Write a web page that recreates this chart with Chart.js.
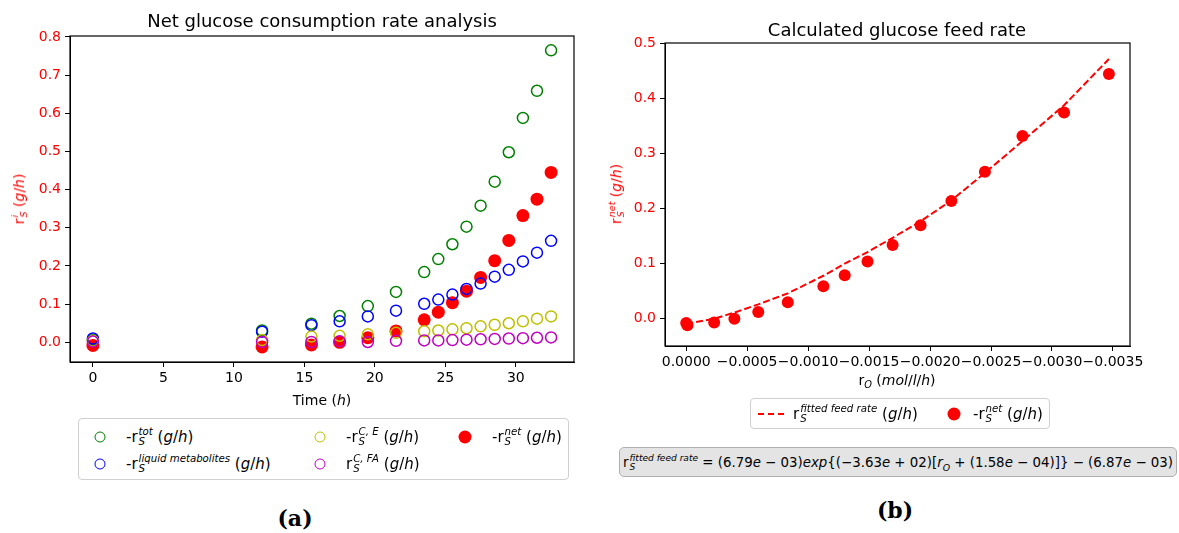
<!DOCTYPE html>
<html>
<head>
<meta charset="utf-8">
<script src="https://cdn.jsdelivr.net/npm/chart.js@4.4.1/dist/chart.umd.min.js"></script>
<style>
  body { margin: 0; width: 1179px; height: 533px; background: #fff; position: relative; overflow: hidden;
         font-family: "DejaVu Sans", sans-serif; color: #000; }
  .abs { position: absolute; white-space: nowrap; }
  .title { font-size: 18px; transform: translate(-50%, -50%); }
  .xlab { font-size: 14px; transform: translate(-50%, -50%); }
  .ylab { font-size: 14px; color: #ff0000; transform: translate(-50%, -50%) rotate(-90deg); }
  .st { display: inline-block; vertical-align: -0.3em; line-height: 0.95; font-size: 0.68em; font-style: italic; margin-left: 1px; }
  .st > span { display: block; }
  .legend { border: 1px solid #d0d0d0; border-radius: 4px; background: #fff; font-size: 15px; }
  .item { position: absolute; transform: translateY(-50%); }
  .ring { position: absolute; width: 9px; height: 9px; border-radius: 50%; border: 1.5px solid; transform: translate(-50%, -50%); }
  .dot { position: absolute; width: 13px; height: 13px; border-radius: 50%; background: #ff0000; transform: translate(-50%, -50%); }
  .dash { position: absolute; width: 26px; height: 2px; transform: translateY(-50%);
          background: repeating-linear-gradient(90deg, #ff0000 0 6px, transparent 6px 10px); }
  .formula { border: 1px solid #b0b0b0; border-radius: 5px; background: #e4e4e4; font-size: 13.35px; padding: 0 3px; }
  .cap { font-family: "DejaVu Serif", serif; font-weight: bold; font-size: 22px; transform: translate(-50%, -50%); }
</style>
</head>
<body>
<canvas id="left" class="abs" width="600" height="400" style="left:0;top:0"></canvas>
<canvas id="right" class="abs" width="579" height="400" style="left:600px;top:0"></canvas>

<div class="abs title" style="left:322px;top:20px">Net glucose consumption rate analysis</div>
<div class="abs title" style="left:897px;top:29px">Calculated glucose feed rate</div>

<div class="abs xlab" style="left:322px;top:400px">Time (<i>h</i>)</div>
<div class="abs xlab" style="left:897px;top:381px">r<sub style="font-size:0.7em"><i>O</i></sub> (<i>mol</i>/<i>l</i>/<i>h</i>)</div>

<div class="abs ylab" style="left:19px;top:199px">r<span class="st"><span>i</span><span>S</span></span> (<i>g</i>/<i>h</i>)</div>
<div class="abs ylab" style="left:616px;top:194px">r<span class="st"><span>net</span><span>S</span></span> (<i>g</i>/<i>h</i>)</div>

<div class="abs legend" style="left:78px;top:418px;width:489px;height:60px">
  <div class="ring" style="left:21px;top:18px;border-color:#008000"></div>
  <div class="item" style="left:47px;top:18px">-r<span class="st"><span>tot</span><span>S</span></span> (<i>g</i>/<i>h</i>)</div>
  <div class="ring" style="left:21px;top:45px;border-color:#0000ff"></div>
  <div class="item" style="left:47px;top:45px">-r<span class="st"><span>liquid metabolites</span><span>S</span></span> (<i>g</i>/<i>h</i>)</div>
  <div class="ring" style="left:241px;top:18px;border-color:#bfbf00"></div>
  <div class="item" style="left:267px;top:18px">-r<span class="st"><span>C, E</span><span>S</span></span> (<i>g</i>/<i>h</i>)</div>
  <div class="ring" style="left:241px;top:45px;border-color:#bf00bf"></div>
  <div class="item" style="left:267px;top:45px">r<span class="st"><span>C, FA</span><span>S</span></span> (<i>g</i>/<i>h</i>)</div>
  <div class="dot" style="left:386px;top:18px"></div>
  <div class="item" style="left:413px;top:18px">-r<span class="st"><span>net</span><span>S</span></span> (<i>g</i>/<i>h</i>)</div>
</div>

<div class="abs legend" style="left:750px;top:398px;width:298px;height:29px">
  <div class="dash" style="left:7px;top:15px"></div>
  <div class="item" style="left:42px;top:15px">r<span class="st"><span>fitted feed rate</span><span>S</span></span> (<i>g</i>/<i>h</i>)</div>
  <div class="dot" style="left:203px;top:15px"></div>
  <div class="item" style="left:222px;top:15px">-r<span class="st"><span>net</span><span>S</span></span> (<i>g</i>/<i>h</i>)</div>
</div>

<div class="abs formula" style="left:619px;top:447px;height:28px;line-height:30px">r<span class="st"><span>fitted feed rate</span><span>S</span></span> = (6.79<i>e</i> &minus; 03)<i>exp</i>{(&minus;3.63<i>e</i> + 02)[<i>r<sub style="font-size:0.7em">O</sub></i> + (1.58<i>e</i> &minus; 04)]} &minus; (6.87<i>e</i> &minus; 03)</div>

<div class="abs cap" style="left:295px;top:518px">(a)</div>
<div class="abs cap" style="left:895px;top:510px">(b)</div>

<script>
// time points (h) and the five rates in the left panel (g/h)
const times = [0, 12, 15.5, 17.5, 19.5, 21.5, 23.5, 24.5, 25.5, 26.5, 27.5, 28.5, 29.5, 30.5, 31.5, 32.5];
const rTot = [0.006, 0.031, 0.049, 0.069, 0.095, 0.132, 0.184, 0.218, 0.257, 0.303, 0.358, 0.421, 0.498, 0.588, 0.659, 0.765];
const rLiquid = [0.010, 0.028, 0.045, 0.055, 0.068, 0.083, 0.101, 0.112, 0.125, 0.140, 0.154, 0.172, 0.190, 0.212, 0.235, 0.266];
const rCE = [0.004, 0.006, 0.015, 0.017, 0.021, 0.025, 0.029, 0.031, 0.034, 0.037, 0.042, 0.046, 0.050, 0.055, 0.062, 0.068];
const rCFA = [0.002, 0.001, 0.001, 0.003, 0.001, 0.004, 0.005, 0.005, 0.006, 0.007, 0.008, 0.009, 0.010, 0.011, 0.012, 0.013];
const rNet = [-0.008, -0.012, -0.007, 0.000, 0.012, 0.030, 0.059, 0.079, 0.104, 0.134, 0.170, 0.214, 0.267, 0.332, 0.375, 0.445];

// right panel: oxygen rate (mol/l/h) and fitted feed rate
const rO = [0, -0.00001, -0.000229, -0.000395, -0.000591, -0.000833, -0.001125, -0.0013, -0.001487, -0.001693, -0.001922, -0.002175, -0.00245, -0.002758, -0.003099, -0.003467];
const rFitted = [-0.009, -0.009, 0.000, 0.011, 0.026, 0.046, 0.078, 0.100, 0.121, 0.147, 0.177, 0.215, 0.265, 0.323, 0.388, 0.472];

const leftXTicks = [0, 5, 10, 15, 20, 25, 30];
const leftYTicks = [0, 0.1, 0.2, 0.3, 0.4, 0.5, 0.6, 0.7, 0.8];
const rightXTicks = [0, -0.0005, -0.001, -0.0015, -0.002, -0.0025, -0.003, -0.0035];
const rightYTicks = [0, 0.1, 0.2, 0.3, 0.4, 0.5];

const pts = (xs, ys) => xs.map((x, i) => ({ x, y: ys[i] }));

// box round the plot area, like matplotlib spines
const frame = {
  id: 'frame',
  afterDraw(chart) {
    const a = chart.chartArea, ctx = chart.ctx;
    ctx.save();
    ctx.strokeStyle = '#000';
    ctx.lineWidth = 1.2;
    ctx.strokeRect(a.left, a.top, a.right - a.left, a.bottom - a.top);
    ctx.restore();
  }
};

const tickFont = { family: 'DejaVu Sans', size: 14 };

function axis(opts) {
  return Object.assign({
    type: 'linear',
    grid: { display: true, drawOnChartArea: false, drawTicks: true, tickLength: 5, color: '#000', lineWidth: 1 },
    border: { display: true, color: '#000', width: 1 },
  }, opts);
}

function ring(label, color, ys) {
  return {
    label, data: pts(times, ys),
    borderColor: color, backgroundColor: 'rgba(0,0,0,0)',
    pointRadius: 5.5, pointBorderWidth: 1.5
  };
}

new Chart(document.getElementById('left'), {
  type: 'scatter',
  data: {
    // first dataset is drawn on top
    datasets: [
      ring('rCFA', '#bf00bf', rCFA),
      ring('rCE', '#bfbf00', rCE),
      ring('rLiquid', '#0000ff', rLiquid),
      ring('rTot', '#008000', rTot),
      { label: 'rNet', data: pts(times, rNet), backgroundColor: '#ff0000', borderColor: '#ff0000',
        pointRadius: 6.5, pointBorderWidth: 0 }
    ]
  },
  options: {
    responsive: false, animation: false, devicePixelRatio: 1,
    layout: { padding: { top: 36, right: 26, left: 0, bottom: 0 } },
    plugins: { legend: { display: false }, tooltip: { enabled: false } },
    scales: {
      x: axis({
        min: -1.625, max: 34.125,
        afterBuildTicks: s => { s.ticks = leftXTicks.map(v => ({ value: v })); },
        afterFit: s => { s.height = 38; },
        ticks: { font: tickFont, color: '#000', padding: 3, maxRotation: 0, autoSkip: false, callback: v => String(v) }
      }),
      y: axis({
        min: -0.0515, max: 0.8025,
        afterBuildTicks: s => { s.ticks = leftYTicks.map(v => ({ value: v })); },
        afterFit: s => { s.width = 70; },
        ticks: { font: tickFont, color: '#ff0000', padding: 4, callback: v => v.toFixed(1) }
      })
    }
  },
  plugins: [frame]
});

new Chart(document.getElementById('right'), {
  type: 'scatter',
  data: {
    datasets: [
      { label: '-rNet', data: pts(rO, rNet), backgroundColor: '#ff0000', borderColor: '#ff0000',
        pointRadius: 6, pointBorderWidth: 0 },
      { label: 'fitted', data: pts(rO, rFitted), showLine: true, borderColor: '#ff0000', borderWidth: 2,
        borderDash: [7, 3], pointRadius: 0, fill: false }
    ]
  },
  options: {
    responsive: false, animation: false, devicePixelRatio: 1,
    layout: { padding: { top: 43, right: 49, left: 0, bottom: 0 } },
    plugins: { legend: { display: false }, tooltip: { enabled: false } },
    scales: {
      x: axis({
        reverse: true, min: -0.00364, max: 0.000174,
        afterBuildTicks: s => { s.ticks = rightXTicks.map(v => ({ value: v })); },
        afterFit: s => { s.height = 54; },
        ticks: { font: tickFont, color: '#000', padding: 3, maxRotation: 0, autoSkip: false,
                 callback: v => v === 0 ? '0.0000' : v.toFixed(4).replace('-', '\u2212') }
      }),
      y: axis({
        min: -0.0497, max: 0.5012,
        afterBuildTicks: s => { s.ticks = rightYTicks.map(v => ({ value: v })); },
        afterFit: s => { s.width = 65; },
        ticks: { font: tickFont, color: '#ff0000', padding: 4, callback: v => v.toFixed(1) }
      })
    }
  },
  plugins: [frame]
});
</script>
</body>
</html>
